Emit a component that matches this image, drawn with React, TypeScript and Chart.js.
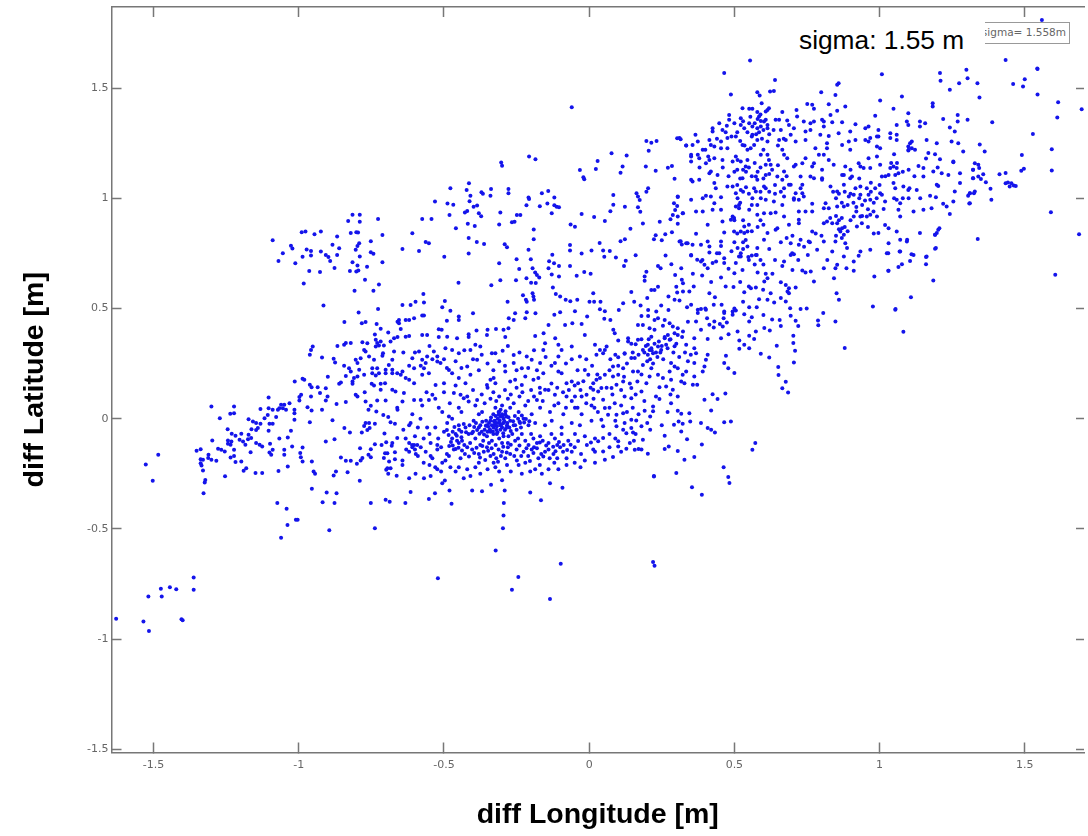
import React, { useEffect, useRef } from "react";
import { Chart, registerables } from "chart.js";

Chart.register(...registerables);

const xTickValues = [-1.5, -1, -0.5, 0, 0.5, 1, 1.5];
const yTickValues = [-1.5, -1, -0.5, 0, 0.5, 1, 1.5];
const xTitle = "diff Longitude [m]";
const yTitle = "diff Latitude [m]";
const sigmaNote = "sigma: 1.55 m";
const sigmaLegend = "sigma= 1.558m";

const southWest = [[-1.629,-0.908],[-1.535,-0.92],[-1.516,-0.964],[-1.518,-0.807],[-1.472,-0.807],[-1.475,-0.772],[-1.444,-0.765],[-1.422,-0.774],[-1.362,-0.721],[-1.362,-0.777],[-1.404,-0.91],[-1.40,-0.915],[-1.484,-0.164],[-1.527,-0.208],[-1.503,-0.282]];

const northWest = [[-1.09,0.81],[-1.055,0.75],[-1.07,0.715],[-1.027,0.785],[-1.022,0.772],[-1.012,0.705],[-0.987,0.735],[-0.99,0.846],[-0.977,0.849],[-0.973,0.767],[-0.958,0.761],[-0.958,0.74],[-0.946,0.837],[-0.924,0.849],[-0.924,0.758],[-0.907,0.743],[-0.898,0.733],[-0.892,0.715],[-0.964,0.67],[-0.927,0.666],[-0.877,0.684],[-0.868,0.826],[-0.884,0.789],[-0.861,0.773],[-0.868,0.743],[-0.983,0.613],[-0.915,0.513],[-0.83,0.897],[-0.815,0.925],[-0.79,0.925],[-0.79,0.893],[-0.727,0.906],[-0.821,0.842],[-0.802,0.846],[-0.796,0.845],[-0.712,0.833],[-0.752,0.805],[-0.792,0.796],[-0.798,0.784],[-0.804,0.766],[-0.752,0.755],[-0.743,0.748],[-0.79,0.736],[-0.815,0.71],[-0.798,0.695],[-0.712,0.71],[-0.765,0.689],[-0.824,0.67],[-0.802,0.668],[-0.795,0.672],[-0.772,0.63],[-0.724,0.609],[-0.808,0.58],[-0.743,0.58],[-0.727,0.497],[-0.794,0.482],[-0.843,0.438],[-0.783,0.433],[-0.77,0.438],[-0.732,0.43],[-0.718,0.408],[-0.66,0.44],[-0.692,0.391],[-0.738,0.382],[-0.672,0.365],[-0.66,0.37],[-0.684,0.35],[-0.735,0.358],[-0.718,0.35],[-0.73,0.343],[-0.735,0.327],[-0.724,0.332],[-0.707,0.332],[-0.781,0.347],[-0.764,0.342],[-0.867,0.33],[-0.844,0.335],[-0.838,0.343],[-0.821,0.343],[-0.952,0.327],[-0.958,0.312],[-0.962,0.29],[-0.92,0.278],[-0.88,0.272],[-0.875,0.255],[-0.775,0.312],[-0.77,0.305],[-0.672,0.305],[-0.71,0.297],[-0.712,0.285],[-0.804,0.267],[-0.787,0.274],[-0.798,0.252],[-0.758,0.282],[-0.741,0.267],[-0.844,0.24],[-0.827,0.229],[-0.821,0.214],[-0.792,0.222],[-0.747,0.229],[-0.73,0.229],[-0.69,0.244],[-0.678,0.267],[-0.747,0.206],[-0.724,0.206],[-0.701,0.222],[-0.701,0.206],[-0.678,0.222],[-0.678,0.206],[-0.661,0.206],[-0.838,0.194],[-0.81,0.184],[-0.798,0.191],[-0.775,0.199],[-0.815,0.169],[-0.815,0.158],[-0.735,0.196],[-0.9,0.19],[-1.014,0.169],[-0.987,0.181],[-0.981,0.176],[-0.962,0.154],[-0.956,0.142],[-0.935,0.142],[-0.907,0.138],[-0.861,0.158],[-0.855,0.164],[-0.749,0.158],[-0.741,0.15],[-0.718,0.158],[-0.703,0.161],[-0.718,0.131],[-0.678,0.131],[-0.667,0.123],[-0.804,0.108],[-0.798,0.1],[-0.773,0.12],[-0.927,0.116],[-0.958,0.101],[-0.992,0.108],[-0.998,0.098],[-0.901,0.101],[-1.104,0.096]];

const westBand = [[-1.301,0.055],[-1.223,0.055],[-1.223,0.025],[-1.236,0.022],[-1.272,0.002],[-1.132,0.044],[-1.104,0.047],[-1.09,0.04],[-1.072,0.04],[-1.061,0.063],[-1.05,0.063],[-1.067,0.047],[-1.055,0.047],[-1.044,0.04],[-1.032,0.07],[-1.015,0.04],[-1.015,0.025],[-1.107,0.017],[-1.118,0.002],[-1.078,0.007],[-1.015,-0.005],[-1.173,-0.003],[-1.158,-0.013],[-1.147,-0.02],[-1.132,-0.023],[-1.101,-0.023],[-1.09,-0.023],[-1.163,-0.048],[-1.147,-0.051],[-1.141,-0.043],[-1.104,-0.055],[-1.027,-0.055],[-1.245,-0.048],[-1.231,-0.069],[-1.218,-0.078],[-1.198,-0.069],[-1.173,-0.073],[-1.164,-0.088],[-1.175,-0.093],[-1.298,-0.099],[-1.244,-0.099],[-1.232,-0.104],[-1.244,-0.114],[-1.235,-0.119],[-1.204,-0.096],[-1.192,-0.104],[-1.184,-0.119],[-1.147,-0.11],[-1.135,-0.119],[-1.126,-0.126],[-1.099,-0.114],[-1.067,-0.09],[-1.038,-0.085],[-1.023,-0.126],[-1.352,-0.146],[-1.338,-0.139],[-1.278,-0.137],[-1.267,-0.141],[-1.255,-0.149],[-1.223,-0.141],[-1.166,-0.152],[-1.223,-0.169],[-1.09,-0.141],[-1.101,-0.154],[-1.095,-0.164],[-1.05,-0.141],[-1.05,-0.164],[-0.987,-0.131],[-0.995,-0.156],[-0.993,-0.175],[-0.987,-0.194],[-0.955,-0.194],[-1.311,-0.164],[-1.312,-0.179],[-1.301,-0.187],[-1.284,-0.191],[-1.338,-0.184],[-1.33,-0.187],[-1.338,-0.202],[-1.335,-0.213],[-1.235,-0.176],[-1.218,-0.197],[-1.198,-0.194],[-1.33,-0.235],[-1.181,-0.225],[-1.19,-0.237],[-1.149,-0.247],[-1.126,-0.247],[-1.07,-0.238],[-1.038,-0.217],[-1.254,-0.261],[-1.322,-0.278],[-1.324,-0.29],[-1.328,-0.339],[-0.949,-0.24],[-0.944,-0.25],[-0.955,-0.318],[-1.074,-0.383],[-1.042,-0.409],[-1.039,-0.483],[-1.01,-0.459],[-1.004,-0.459],[-1.061,-0.54],[-0.904,-0.335],[-0.87,-0.339],[-0.918,-0.379],[-0.877,-0.383],[-0.895,-0.506],[-0.738,-0.497],[-0.752,-0.383],[-0.701,-0.368],[-0.687,-0.377],[-0.79,-0.282],[-0.88,-0.258],[-0.872,-0.24],[-0.832,-0.243],[-0.8,-0.205],[-0.855,-0.176],[-0.838,-0.191],[-0.821,-0.191],[-0.781,-0.179],[-0.787,-0.19],[-0.76,-0.164],[-0.752,-0.175],[-0.789,-0.134],[-0.752,-0.139],[-0.738,-0.116],[-0.715,-0.12],[-0.699,-0.107],[-0.678,-0.111],[-0.68,-0.123],[-0.907,-0.104],[-0.877,-0.093],[-0.661,-0.088],[-0.703,-0.157],[-0.695,-0.157],[-0.707,-0.179],[-0.689,-0.195],[-0.669,-0.184],[-0.669,-0.152],[-0.695,-0.225],[-0.684,-0.225],[-0.699,-0.232],[-0.692,-0.25],[-0.663,-0.259],[-0.843,-0.043],[-0.824,-0.063],[-0.783,-0.063],[-0.705,-0.067],[-0.962,-0.016],[-0.884,-0.007],[-0.77,-0.02],[-0.775,-0.033],[-0.758,-0.02],[-0.764,-0.051],[-0.738,-0.023],[-0.756,-0.043],[-0.684,-0.016],[-0.669,-0.023],[-0.97,0.052],[-0.956,0.037],[-0.92,0.04],[-0.87,0.067],[-0.838,0.075],[-0.77,0.078],[-0.752,0.058],[-0.76,0.04],[-0.733,0.032],[-0.709,0.017],[-0.692,0.007],[-0.661,0.049],[-0.998,0.082],[-0.907,0.082],[-0.73,0.082],[-0.701,0.082]];

const centreUpper = [[-0.643,0.214],[-0.649,0.199],[-0.632,0.184],[-0.62,0.176],[-0.603,0.161],[-0.569,0.229],[-0.563,0.252],[-0.575,0.267],[-0.558,0.282],[-0.535,0.305],[-0.523,0.282],[-0.523,0.259],[-0.512,0.252],[-0.483,0.221],[-0.472,0.206],[-0.449,0.184],[-0.426,0.161],[-0.409,0.199],[-0.42,0.237],[-0.386,0.267],[-0.409,0.312],[-0.472,0.312],[-0.449,0.297],[-0.495,0.32],[-0.552,0.206],[-0.575,0.199],[-0.609,0.274],[-0.603,0.229],[-0.586,0.305],[-0.392,0.335],[-0.375,0.327],[-0.335,0.297],[-0.323,0.297],[-0.298,0.308],[-0.289,0.214],[-0.26,0.289],[-0.26,0.252],[-0.232,0.229],[-0.215,0.282],[-0.198,0.267],[-0.169,0.252],[-0.255,0.176],[-0.232,0.153],[-0.272,0.168],[-0.34,0.176],[-0.329,0.184],[-0.352,0.153],[-0.323,0.161],[-0.5,0.161],[-0.529,0.153],[-0.638,0.116],[-0.643,0.078],[-0.603,0.085],[-0.58,0.085],[-0.552,0.085],[-0.54,0.108],[-0.466,0.116],[-0.443,0.108],[-0.432,0.093],[-0.415,0.078],[-0.386,0.085],[-0.158,0.312],[-0.152,0.342],[-0.106,0.335],[-0.095,0.312],[-0.06,0.327],[-0.032,0.282],[0.02,0.335],[-0.015,0.221],[-0.003,0.199],[0.025,0.176],[0.014,0.161],[0.014,0.131],[0.031,0.123],[-0.009,0.108],[-0.038,0.161],[-0.06,0.168],[-0.078,0.161],[-0.095,0.206],[-0.106,0.214],[-0.118,0.252],[-0.106,0.282],[-0.158,0.206],[-0.175,0.184],[-0.192,0.176],[-0.22,0.191],[-0.152,0.131],[-0.169,0.116],[-0.18,0.085],[-0.118,0.108],[-0.078,0.1],[-0.049,0.1],[-0.026,0.1]];

const centreCore = [[-0.66,0.04],[-0.609,0.02],[-0.575,0.06],[-0.518,0.05],[-0.506,0.03],[-0.483,0.01],[-0.449,0.05],[-0.392,0.06],[-0.369,0.03],[-0.323,0.05],[-0.312,0.03],[-0.3,0.06],[-0.289,0.02],[-0.272,0.05],[-0.243,0.03],[-0.22,0.06],[-0.198,0.02],[-0.169,0.05],[-0.135,0.03],[-0.106,0.07],[-0.089,0.02],[-0.049,0.05],[-0.026,0.02],[0.008,0.06],[-0.615,-0.02],[-0.581,-0.0],[-0.558,-0.04],[-0.489,-0.02],[-0.472,-0.0],[-0.449,-0.03],[-0.426,-0.04],[-0.398,-0.01],[-0.375,-0.03],[-0.352,-0.03],[-0.34,-0.01],[-0.329,-0.04],[-0.318,-0.02],[-0.306,-0.03],[-0.295,-0.0],[-0.283,-0.03],[-0.272,-0.01],[-0.255,-0.03],[-0.238,-0.02],[-0.226,0.0],[-0.209,-0.03],[-0.186,-0.02],[-0.152,-0.03],[-0.129,-0.01],[-0.095,-0.04],[-0.06,-0.02],[-0.032,-0.03],[0.008,-0.01],[-0.345,-0.02],[-0.335,-0.03],[-0.325,-0.01],[-0.315,0.0],[-0.31,-0.02],[-0.3,-0.04],[-0.305,0.01],[-0.295,-0.02],[-0.29,-0.05],[-0.32,-0.05],[-0.33,0.02],[-0.31,0.03],[-0.305,0.04],[-0.3,0.02],[-0.285,0.01],[-0.275,-0.04],[-0.26,-0.03],[-0.25,-0.05],[-0.245,0.0],[-0.235,-0.04],[-0.36,-0.05],[-0.355,-0.01],[-0.35,-0.06],[-0.34,-0.06],[-0.37,-0.06],[-0.38,-0.04],[-0.39,-0.02]];

const centreLower = [[-0.632,-0.09],[-0.62,-0.11],[-0.603,-0.12],[-0.592,-0.12],[-0.546,-0.11],[-0.523,-0.12],[-0.472,-0.09],[-0.46,-0.07],[-0.449,-0.11],[-0.438,-0.1],[-0.415,-0.07],[-0.392,-0.09],[-0.375,-0.12],[-0.352,-0.08],[-0.335,-0.1],[-0.318,-0.07],[-0.3,-0.11],[-0.278,-0.08],[-0.255,-0.1],[-0.232,-0.07],[-0.209,-0.12],[-0.192,-0.09],[-0.169,-0.08],[-0.14,-0.11],[-0.118,-0.09],[-0.095,-0.07],[-0.072,-0.1],[-0.049,-0.07],[-0.015,-0.08],[0.02,-0.09],[-0.47,-0.06],[-0.455,-0.1],[-0.44,-0.06],[-0.43,-0.12],[-0.41,-0.11],[-0.4,-0.06],[-0.365,-0.1],[-0.345,-0.11],[-0.33,-0.07],[-0.31,-0.09],[-0.295,-0.08],[-0.28,-0.11],[-0.265,-0.07],[-0.245,-0.09],[-0.22,-0.1],[-0.2,-0.07],[-0.18,-0.11],[-0.16,-0.1],[-0.13,-0.07],[-0.11,-0.12],[-0.643,-0.19],[-0.609,-0.13],[-0.597,-0.16],[-0.563,-0.15],[-0.546,-0.17],[-0.523,-0.14],[-0.495,-0.19],[-0.483,-0.17],[-0.466,-0.14],[-0.443,-0.18],[-0.403,-0.14],[-0.363,-0.15],[-0.352,-0.13],[-0.329,-0.16],[-0.312,-0.14],[-0.289,-0.18],[-0.272,-0.16],[-0.249,-0.19],[-0.226,-0.15],[-0.198,-0.14],[-0.175,-0.18],[-0.152,-0.15],[-0.123,-0.16],[-0.1,-0.13],[-0.078,-0.18],[-0.015,-0.19],[0.014,-0.14],[-0.42,-0.13],[-0.38,-0.16],[-0.34,-0.17],[-0.32,-0.18],[-0.3,-0.15],[-0.28,-0.13],[-0.25,-0.14],[-0.21,-0.17],[-0.19,-0.13],[-0.165,-0.16],[-0.14,-0.14],[-0.11,-0.18],[-0.09,-0.15],[-0.06,-0.15],[-0.643,-0.21],[-0.62,-0.27],[-0.598,-0.25],[-0.569,-0.27],[-0.546,-0.26],[-0.523,-0.23],[-0.506,-0.2],[-0.478,-0.22],[-0.449,-0.22],[-0.432,-0.27],[-0.409,-0.26],[-0.392,-0.22],[-0.375,-0.25],[-0.329,-0.2],[-0.323,-0.22],[-0.283,-0.21],[-0.243,-0.21],[-0.232,-0.25],[-0.203,-0.24],[-0.186,-0.23],[-0.163,-0.25],[-0.106,-0.23],[-0.078,-0.21],[0.02,-0.2],[-0.506,-0.293],[-0.497,-0.281],[-0.615,-0.333],[-0.481,-0.326],[-0.531,-0.338],[-0.403,-0.326],[-0.369,-0.33],[-0.338,-0.3],[-0.3,-0.279],[-0.291,-0.326],[-0.203,-0.335],[-0.135,-0.293],[-0.092,-0.314],[-0.166,-0.37],[-0.633,-0.383],[-0.552,-0.365],[-0.474,-0.386],[-0.294,-0.383],[-0.295,-0.439],[-0.297,-0.497]];

const denseCoreBlob = [[-0.338,0.005],[-0.328,-0.012],[-0.322,0.012],[-0.318,-0.034],[-0.312,0.018],[-0.308,-0.008],[-0.302,-0.026],[-0.298,0.012],[-0.292,-0.012],[-0.288,0.034],[-0.282,-0.02],[-0.278,0.006],[-0.348,-0.036],[-0.342,-0.048],[-0.332,-0.058],[-0.326,-0.028],[-0.316,-0.062],[-0.306,-0.05],[-0.296,-0.066],[-0.286,-0.042],[-0.27,-0.056],[-0.262,-0.012],[-0.256,0.012],[-0.24,-0.014],[-0.232,0.014],[-0.224,-0.018],[-0.218,-0.002],[-0.206,-0.012],[-0.368,-0.014],[-0.362,-0.072],[-0.356,-0.032],[-0.378,-0.068],[-0.386,-0.052],[-0.396,-0.038],[-0.404,-0.066],[-0.412,-0.03],[-0.424,-0.062],[-0.432,-0.024],[-0.44,-0.084],[-0.448,-0.05],[-0.456,-0.078],[-0.464,-0.038],[-0.476,-0.106],[-0.484,-0.074],[-0.49,-0.052],[-0.482,-0.124],[-0.47,-0.122],[-0.46,-0.138],[-0.45,-0.132],[-0.438,-0.144],[-0.428,-0.16],[-0.414,-0.172],[-0.396,-0.156],[-0.388,-0.132],[-0.376,-0.176],[-0.368,-0.124],[-0.358,-0.188],[-0.348,-0.146],[-0.336,-0.134],[-0.322,-0.12],[-0.314,-0.196],[-0.304,-0.17],[-0.296,-0.128],[-0.284,-0.154],[-0.27,-0.118],[-0.258,-0.17],[-0.24,-0.122],[-0.234,-0.17],[-0.216,-0.134],[-0.204,-0.192],[-0.192,-0.156],[-0.18,-0.134],[-0.17,-0.108],[-0.158,-0.172],[-0.148,-0.122],[-0.136,-0.18],[-0.124,-0.128],[-0.116,-0.148],[-0.104,-0.106],[-0.088,-0.12],[-0.076,-0.142],[-0.064,-0.118],[-0.05,-0.13],[-0.038,-0.102],[-0.028,-0.16],[-0.008,-0.12],[0.006,-0.108],[0.02,-0.15]];

const coreUpperBand = [[-0.56,0.12],[-0.53,0.09],[-0.5,0.12],[-0.48,0.07],[-0.46,0.15],[-0.44,0.03],[-0.42,0.1],[-0.4,0.13],[-0.38,0.02],[-0.37,0.11],[-0.36,0.07],[-0.35,0.14],[-0.34,0.09],[-0.33,0.12],[-0.32,0.08],[-0.31,0.1],[-0.29,0.13],[-0.28,0.09],[-0.27,0.11],[-0.26,0.07],[-0.25,0.14],[-0.24,0.1],[-0.23,0.12],[-0.21,0.08],[-0.2,0.13],[-0.19,0.1],[-0.17,0.14],[-0.16,0.08],[-0.14,0.13],[-0.13,0.16],[-0.12,0.06],[-0.11,0.14],[-0.09,0.12],[-0.08,0.05],[-0.07,0.13],[-0.06,0.08],[-0.05,0.15],[-0.04,0.05],[-0.03,0.13],[-0.02,0.17],[-0.01,0.07],[0.005,0.14],[0.015,0.09],[0.028,0.2],[0.018,0.05],[0.03,0.03],[-0.64,-0.05],[-0.62,-0.03],[-0.6,-0.08],[-0.59,-0.04],[-0.57,-0.09],[-0.55,-0.07],[-0.53,-0.04],[-0.52,-0.09],[-0.51,-0.13],[-0.5,-0.06],[-0.49,-0.16],[-0.63,-0.14],[-0.62,-0.15],[-0.61,-0.12],[-0.6,-0.14],[-0.59,-0.17],[-0.58,-0.13],[-0.57,-0.2],[-0.55,-0.21],[-0.54,-0.18],[-0.53,-0.22],[-0.51,-0.24],[-0.46,-0.24],[-0.42,-0.23],[-0.38,-0.2],[-0.35,-0.23],[-0.31,-0.24],[-0.27,-0.24],[-0.22,-0.2],[-0.17,-0.21],[-0.14,-0.23],[-0.12,-0.2],[-0.05,-0.2],[-0.03,-0.22],[-0.64,0.3],[-0.62,0.24],[-0.6,0.3],[-0.58,0.24],[-0.55,0.33],[-0.54,0.27],[-0.5,0.27],[-0.49,0.23],[-0.46,0.26],[-0.44,0.23],[-0.43,0.31],[-0.4,0.27],[-0.38,0.22],[-0.37,0.29],[-0.35,0.25],[-0.33,0.22],[-0.31,0.26],[-0.29,0.24],[-0.28,0.33],[-0.25,0.22],[-0.24,0.3],[-0.21,0.23],[-0.19,0.31],[-0.18,0.22],[-0.15,0.28],[-0.13,0.24],[-0.08,0.25],[-0.06,0.27],[-0.04,0.22],[-0.01,0.27],[0.01,0.24],[0.025,0.29]];

const southOutliers = [[-0.322,-0.598],[-0.521,-0.724],[-0.244,-0.719],[-0.266,-0.777],[-0.135,-0.818],[-0.098,-0.659],[0.22,-0.651],[0.225,-0.668],[0.223,-0.26]];

const northMiddle = [[-0.06,1.413],[0.197,1.26],[0.214,1.252],[0.232,1.26],[0.303,1.272],[0.315,1.268],[0.334,1.239],[0.205,1.216],[0.077,1.204],[0.129,1.194],[-0.207,1.19],[-0.185,1.177],[-0.303,1.162],[-0.3,1.148],[0.029,1.169],[-0.032,1.128],[0.023,1.133],[-0.02,1.095],[-0.017,1.086],[0.115,1.144],[0.108,1.116],[0.195,1.144],[0.229,1.125],[0.271,1.138],[0.285,1.147],[0.294,1.089],[-0.414,1.068],[-0.478,1.045],[-0.422,1.038],[-0.409,1.012],[-0.412,0.986],[-0.371,1.027],[-0.366,1.02],[-0.338,1.042],[-0.34,1.012],[-0.278,1.042],[-0.278,1.023],[-0.163,1.023],[-0.141,1.033],[-0.209,1.004],[-0.207,0.997],[-0.12,1.003],[0.083,1.015],[0.203,1.045],[0.197,1.03],[0.163,1.023],[0.168,1.008],[0.174,0.992],[0.305,1.006],[-0.531,0.985],[-0.488,0.976],[-0.468,0.971],[-0.398,0.962],[-0.386,0.967],[-0.42,0.942],[-0.428,0.936],[-0.216,0.968],[-0.17,0.964],[-0.144,0.976],[-0.12,0.968],[-0.112,0.962],[-0.104,0.959],[0.083,0.971],[0.123,0.962],[0.292,0.977],[0.303,0.965],[0.296,0.947],[0.168,0.959],[0.176,0.939],[0.073,0.941],[-0.306,0.935],[-0.38,0.932],[-0.372,0.918],[-0.481,0.924],[-0.129,0.932],[-0.026,0.929],[0.017,0.915],[-0.249,0.924],[-0.237,0.924],[-0.575,0.906],[-0.543,0.906],[0.054,0.897],[0.288,0.924],[0.28,0.905],[0.305,0.917],[0.323,0.932],[0.305,0.884],[0.243,0.894],[0.185,0.885],[-0.418,0.884],[-0.394,0.874],[-0.266,0.891],[-0.257,0.893],[-0.31,0.881],[-0.064,0.881],[-0.049,0.871],[0.142,0.862],[-0.459,0.864],[-0.191,0.858],[-0.609,0.841],[0.285,0.846],[0.262,0.837],[0.229,0.832],[0.223,0.814],[0.25,0.81],[-0.415,0.82],[-0.387,0.802],[-0.362,0.793],[-0.191,0.814],[-0.563,0.802],[-0.552,0.796],[0.123,0.814],[0.108,0.805],[0.036,0.797],[0.315,0.805],[0.319,0.79],[0.334,0.796],[-0.643,0.77],[-0.586,0.761],[-0.291,0.791],[-0.283,0.778],[-0.066,0.788],[-0.066,0.763],[-0.209,0.766],[0.008,0.763],[0.048,0.763],[0.071,0.761],[-0.415,0.749],[-0.499,0.735],[-0.127,0.744],[-0.026,0.749],[0.052,0.735],[0.16,0.741],[0.263,0.74],[0.092,0.731],[-0.25,0.723],[-0.201,0.723],[-0.138,0.714],[-0.121,0.705],[-0.14,0.682],[-0.104,0.693],[0.126,0.717],[0.12,0.693],[-0.31,0.705],[-0.066,0.693],[0.283,0.701],[0.237,0.693],[0.246,0.682],[-0.241,0.679],[-0.195,0.682],[-0.186,0.663],[-0.18,0.652],[-0.172,0.64],[0.317,0.682],[0.296,0.652],[-0.129,0.654],[-0.104,0.645],[-0.043,0.649],[-0.017,0.666],[0.005,0.657],[0.197,0.667],[0.191,0.645],[0.191,0.626],[-0.306,0.628],[-0.252,0.628],[-0.216,0.637],[-0.2,0.617],[-0.184,0.616],[0.319,0.63],[0.323,0.614],[-0.45,0.617],[-0.337,0.605],[-0.125,0.595],[-0.115,0.566],[-0.1,0.554],[-0.081,0.539],[-0.065,0.533],[0.237,0.599],[0.225,0.584],[0.214,0.584],[0.3,0.599],[0.303,0.572],[0.323,0.577],[0.294,0.539],[0.311,0.536],[0.273,0.554],[0.145,0.575],[0.2,0.548],[0.014,0.569],[-0.228,0.56],[-0.195,0.569],[-0.192,0.554],[-0.19,0.539],[-0.218,0.539],[-0.215,0.531],[-0.041,0.539],[0.001,0.53],[0.017,0.53],[0.039,0.53],[-0.571,0.566],[-0.569,0.527],[-0.497,0.534],[-0.598,0.53],[-0.615,0.516],[-0.643,0.516],[-0.281,0.53],[0.117,0.524],[0.155,0.531],[0.177,0.513],[0.203,0.493],[0.231,0.486],[0.248,0.513],[0.273,0.493],[0.102,0.493],[0.037,0.496],[0.054,0.487],[-0.506,0.506],[-0.478,0.49],[-0.4,0.478],[-0.255,0.478],[-0.215,0.483],[-0.185,0.478],[-0.12,0.471],[-0.1,0.483],[-0.049,0.487],[-0.575,0.468],[-0.569,0.468],[-0.655,0.448],[-0.632,0.448],[-0.62,0.448],[-0.603,0.456],[-0.449,0.463],[-0.449,0.448],[-0.277,0.456],[-0.26,0.448],[-0.22,0.456],[-0.007,0.463],[0.18,0.466],[0.203,0.466],[0.225,0.448],[0.237,0.456],[0.26,0.448],[0.277,0.433],[0.288,0.418],[0.052,0.453],[0.073,0.448],[-0.49,0.444],[-0.14,0.425],[-0.083,0.425],[-0.058,0.433],[-0.026,0.43],[-0.655,0.433],[-0.649,0.407],[-0.518,0.406],[-0.508,0.403],[-0.415,0.383],[-0.388,0.4],[-0.35,0.403],[-0.321,0.407],[-0.295,0.403],[-0.278,0.41],[0.168,0.425],[0.185,0.425],[0.208,0.41],[0.225,0.403],[0.254,0.421],[0.305,0.41],[0.323,0.395],[0.294,0.388],[0.271,0.38],[0.083,0.403],[0.088,0.388],[-0.015,0.38],[-0.157,0.388],[-0.186,0.375],[-0.632,0.372],[-0.62,0.375],[-0.575,0.38],[-0.558,0.38],[-0.518,0.37],[-0.489,0.372],[-0.455,0.365],[-0.415,0.37],[-0.352,0.38],[-0.289,0.37],[-0.117,0.365],[0.134,0.365],[0.214,0.372],[0.26,0.365],[0.305,0.38]];

const eastBandUpper = [[0.351,0.74],[0.372,0.721],[0.385,0.713],[0.397,0.698],[0.408,0.683],[0.425,0.706],[0.437,0.713],[0.465,0.728],[0.465,0.706],[0.505,0.706],[0.522,0.736],[0.528,0.675],[0.548,0.733],[0.577,0.743],[0.58,0.663],[0.671,0.713],[0.665,0.693],[0.694,0.743],[0.705,0.746],[0.753,0.743],[0.854,0.698],[0.848,0.683],[0.886,0.683],[0.911,0.713],[0.911,0.671],[0.928,0.739],[1.031,0.671],[0.982,0.645],[0.843,0.637],[0.808,0.683],[0.774,0.622],[0.745,0.663],[0.763,0.668],[0.734,0.672],[0.7,0.675],[0.357,0.657],[0.389,0.65],[0.454,0.64],[0.497,0.597],[0.534,0.574],[0.557,0.592],[0.574,0.595],[0.603,0.622],[0.614,0.637],[0.631,0.657],[0.608,0.657],[0.66,0.619],[0.677,0.607],[0.688,0.592],[0.711,0.595],[0.683,0.577],[0.688,0.569],[0.66,0.547],[0.677,0.532],[0.625,0.569],[0.599,0.585],[0.585,0.542],[0.614,0.539],[0.637,0.527],[0.345,0.577],[0.414,0.569],[0.433,0.551],[0.429,0.517],[0.456,0.517],[0.351,0.517],[0.337,0.506],[0.852,0.569],[0.86,0.539],[0.977,0.509],[1.054,0.494],[0.728,0.497],[0.749,0.5],[0.692,0.501],[0.806,0.479],[0.551,0.506],[0.577,0.506],[0.534,0.474],[0.494,0.486],[0.505,0.491],[0.465,0.486],[0.374,0.494],[0.385,0.497],[0.402,0.494],[0.362,0.365],[0.368,0.441],[0.374,0.479],[0.406,0.456],[0.414,0.426],[0.431,0.441],[0.429,0.414],[0.46,0.418],[0.474,0.436],[0.463,0.456],[0.465,0.479],[0.494,0.471],[0.385,0.403],[0.408,0.361],[0.454,0.365],[0.48,0.383],[0.511,0.396],[0.517,0.355],[0.534,0.335],[0.517,0.317],[0.551,0.32],[0.551,0.376],[0.568,0.361],[0.574,0.396],[0.603,0.411],[0.622,0.4],[0.551,0.441],[0.656,0.448],[0.694,0.467],[0.711,0.444],[0.788,0.445],[0.789,0.424],[0.848,0.441],[0.703,0.376],[0.703,0.343],[0.709,0.308],[0.646,0.331],[0.88,0.321],[0.362,0.32],[0.36,0.6],[0.39,0.72],[0.42,0.62],[0.44,0.75],[0.47,0.6],[0.48,0.68],[0.5,0.66],[0.52,0.62],[0.55,0.6],[0.57,0.7],[0.6,0.7],[0.62,0.77],[0.64,0.72],[0.66,0.8],[0.68,0.82],[0.7,0.83],[0.72,0.72],[0.74,0.78],[0.76,0.8],[0.78,0.84],[0.8,0.83],[0.82,0.72],[0.34,0.44],[0.4,0.5],[0.45,0.43],[0.5,0.5],[0.53,0.53],[0.56,0.46],[0.6,0.47],[0.63,0.45],[0.66,0.42],[0.72,0.42]];

const eastBandLower = [[0.054,0.312],[0.037,0.312],[0.06,0.327],[0.048,0.297],[0.1,0.355],[0.134,0.35],[0.145,0.34],[0.168,0.358],[0.202,0.335],[0.185,0.312],[0.208,0.312],[0.214,0.32],[0.22,0.297],[0.202,0.29],[0.237,0.327],[0.265,0.335],[0.277,0.358],[0.334,0.335],[0.294,0.328],[0.248,0.312],[0.122,0.297],[0.16,0.338],[0.18,0.36],[0.471,0.285],[0.465,0.252],[0.479,0.229],[0.5,0.207],[0.402,0.267],[0.408,0.29],[0.397,0.237],[0.391,0.214],[0.362,0.252],[0.368,0.297],[0.362,0.191],[0.328,0.161],[0.317,0.169],[0.357,0.154],[0.372,0.154],[0.334,0.214],[0.305,0.229],[0.282,0.252],[0.277,0.214],[0.282,0.176],[0.265,0.146],[0.242,0.143],[0.237,0.199],[0.254,0.184],[0.208,0.191],[0.197,0.161],[0.166,0.169],[0.151,0.214],[0.168,0.214],[0.145,0.275],[0.157,0.275],[0.122,0.294],[0.1,0.279],[0.073,0.27],[0.082,0.237],[0.117,0.229],[0.1,0.199],[0.082,0.191],[0.054,0.199],[0.037,0.184],[0.042,0.139],[0.077,0.139],[0.094,0.154],[0.117,0.169],[0.145,0.139],[0.18,0.123],[0.288,0.131],[0.305,0.101],[0.242,0.089],[0.397,0.086],[0.425,0.111],[0.442,0.089],[0.469,0.114],[0.591,0.294],[0.62,0.278],[0.651,0.234],[0.705,0.255],[0.652,0.198],[0.677,0.167],[0.665,0.138],[0.685,0.119],[0.214,0.229],[0.185,0.244],[0.294,0.237],[0.322,0.199],[0.048,0.086],[0.088,0.07],[0.122,0.101],[0.145,0.093],[0.22,0.055],[0.282,0.07],[0.305,0.036],[0.317,0.022],[0.345,0.025],[0.42,0.037],[0.054,0.048],[0.094,0.018],[0.117,0.025],[0.065,0.018],[0.042,-0.005],[0.048,-0.035],[0.094,-0.035],[0.122,-0.02],[0.145,-0.005],[0.162,-0.008],[0.18,-0.035],[0.145,-0.043],[0.128,-0.066],[0.151,-0.063],[0.117,-0.05],[0.21,-0.05],[0.292,-0.028],[0.308,-0.013],[0.322,-0.023],[0.348,-0.013],[0.385,-0.02],[0.408,-0.043],[0.42,-0.05],[0.433,-0.063],[0.465,-0.016],[0.488,-0.013],[0.317,-0.058],[0.26,-0.078],[0.337,-0.093],[0.185,-0.096],[0.154,-0.1],[0.1,-0.103],[0.048,-0.088],[0.031,-0.103],[0.1,-0.126],[0.128,-0.137],[0.157,-0.141],[0.17,-0.138],[0.048,-0.149],[0.054,-0.187],[0.082,-0.174],[0.202,-0.159],[0.26,-0.138],[0.274,-0.126],[0.305,-0.147],[0.388,-0.117],[0.572,-0.111],[0.562,-0.141],[0.328,-0.187],[0.362,-0.174],[0.463,-0.221],[0.479,-0.265],[0.483,-0.292],[0.3,-0.247],[0.223,-0.262],[0.354,-0.311],[0.388,-0.345],[0.191,0.036],[0.22,0.033],[0.06,0.14],[0.07,0.22],[0.08,0.11],[0.09,0.29],[0.1,0.24],[0.11,0.13],[0.12,0.19],[0.13,0.25],[0.14,0.16],[0.15,0.3],[0.16,0.11],[0.17,0.29],[0.18,0.2],[0.19,0.3],[0.195,0.33],[0.2,0.26],[0.205,0.36],[0.21,0.27],[0.215,0.31],[0.22,0.25],[0.225,0.34],[0.23,0.3],[0.235,0.28],[0.24,0.35],[0.245,0.3],[0.25,0.33],[0.255,0.27],[0.26,0.37],[0.27,0.32],[0.28,0.36],[0.29,0.3],[0.3,0.34],[0.31,0.28],[0.32,0.37],[0.33,0.3],[0.34,0.26],[0.35,0.29],[0.07,0.05],[0.09,-0.01],[0.11,0.06],[0.13,0.03],[0.15,0.05],[0.17,0.02],[0.19,0.08],[0.21,0.01],[0.23,0.1],[0.25,-0.03],[0.27,0.03],[0.28,0.11],[0.07,-0.07],[0.09,-0.09],[0.11,-0.15],[0.14,-0.11],[0.16,-0.07],[0.18,-0.14],[0.07,-0.13],[0.2,-0.02]];

const northEastTop = [[0.465,1.568],[0.554,1.625],[0.64,1.537],[0.488,1.471],[0.579,1.481],[0.587,1.466],[0.623,1.484],[0.636,1.487],[0.594,1.431],[0.528,1.409],[0.551,1.406],[0.562,1.406],[0.579,1.391],[0.585,1.371],[0.591,1.351],[0.608,1.356],[0.614,1.401],[0.608,1.394],[0.619,1.409],[0.482,1.378],[0.482,1.356],[0.448,1.341],[0.425,1.318],[0.425,1.303],[0.459,1.31],[0.474,1.329],[0.522,1.363],[0.522,1.333],[0.534,1.318],[0.551,1.341],[0.562,1.326],[0.579,1.318],[0.591,1.326],[0.602,1.348],[0.614,1.333],[0.614,1.318],[0.665,1.391],[0.654,1.356],[0.642,1.356],[0.682,1.353],[0.688,1.333],[0.705,1.318],[0.714,1.401],[0.716,1.371],[0.739,1.348],[0.762,1.341],[0.774,1.348],[0.802,1.356],[0.808,1.348],[0.799,1.481],[0.848,1.469],[0.859,1.522],[0.854,1.515],[0.751,1.428],[0.768,1.424],[0.774,1.406],[0.825,1.427],[0.854,1.397],[0.882,1.416],[0.831,1.378],[0.871,1.345],[0.837,1.345],[0.917,1.336],[0.899,1.303],[0.951,1.318],[0.962,1.326],[0.996,1.31],[0.808,1.326],[1.008,1.563],[1.002,1.444],[1.077,1.462],[1.048,1.406],[1.099,1.386],[0.985,1.374],[1.208,1.568],[1.21,1.533],[1.299,1.583],[1.303,1.545],[1.274,1.522],[1.242,1.492],[1.183,1.431],[1.183,1.416],[1.219,1.36],[1.269,1.378],[1.269,1.348],[1.303,1.356],[1.094,1.348],[1.099,1.333],[1.139,1.348],[1.139,1.326],[1.157,1.341],[1.059,1.333],[1.242,1.321],[1.259,1.303],[1.037,1.295],[1.037,1.273],[1.059,1.288],[1.059,1.265],[0.996,1.28],[1.162,1.265],[1.197,1.25],[1.248,1.258],[1.271,1.25],[1.288,1.212],[1.105,1.25],[1.111,1.258],[1.099,1.235],[1.111,1.227],[1.122,1.22],[1.099,1.217],[1.168,1.205],[1.191,1.2],[1.208,1.177],[1.254,1.164],[1.002,1.227],[0.962,1.258],[0.991,1.235],[0.991,1.19],[0.53,1.35],[0.545,1.3],[0.555,1.37],[0.56,1.28],[0.57,1.34],[0.575,1.29],[0.58,1.36],[0.585,1.3],[0.59,1.38],[0.595,1.27],[0.6,1.31],[0.51,1.3],[0.52,1.26],[0.5,1.34],[0.49,1.28],[0.535,1.24],[0.545,1.22],[0.6,1.22],[0.62,1.29],[0.635,1.31],[0.65,1.24],[0.66,1.31],[0.67,1.27],[0.47,1.3],[0.44,1.27],[0.4,1.22]];

const northEastMiddle = [[0.311,1.273],[0.334,1.239],[0.356,1.242],[0.374,1.258],[0.366,1.288],[0.351,1.197],[0.351,1.167],[0.374,1.197],[0.379,1.182],[0.391,1.22],[0.351,1.19],[0.414,1.265],[0.419,1.242],[0.431,1.235],[0.454,1.227],[0.454,1.258],[0.476,1.273],[0.476,1.227],[0.505,1.28],[0.528,1.242],[0.556,1.227],[0.568,1.242],[0.562,1.288],[0.579,1.265],[0.614,1.258],[0.654,1.265],[0.677,1.265],[0.694,1.288],[0.711,1.258],[0.745,1.265],[0.779,1.227],[0.745,1.303],[0.762,1.31],[0.796,1.288],[0.825,1.283],[0.819,1.25],[0.819,1.227],[0.871,1.242],[0.859,1.295],[0.899,1.22],[0.894,1.258],[0.917,1.265],[0.951,1.265],[0.968,1.273],[0.991,1.28],[0.402,1.159],[0.414,1.174],[0.431,1.182],[0.459,1.174],[0.419,1.121],[0.414,1.114],[0.442,1.106],[0.505,1.19],[0.511,1.174],[0.522,1.167],[0.539,1.144],[0.494,1.167],[0.545,1.174],[0.591,1.197],[0.614,1.197],[0.619,1.174],[0.608,1.152],[0.625,1.152],[0.665,1.22],[0.671,1.197],[0.682,1.182],[0.705,1.144],[0.711,1.152],[0.671,1.121],[0.745,1.182],[0.734,1.159],[0.791,1.197],[0.808,1.197],[0.825,1.174],[0.774,1.159],[0.768,1.144],[0.842,1.152],[0.802,1.129],[0.774,1.091],[0.802,1.084],[0.882,1.144],[0.877,1.106],[0.905,1.099],[0.928,1.159],[0.934,1.144],[0.945,1.137],[0.968,1.137],[0.962,1.182],[1.002,1.152],[1.048,1.144],[1.059,1.137],[1.037,1.137],[1.008,1.099],[1.031,1.106],[1.065,1.114],[1.134,1.147],[1.151,1.137],[1.151,1.099],[1.185,1.121],[1.214,1.114],[1.237,1.106],[1.277,1.114],[1.322,1.129],[1.322,1.091],[1.254,1.167],[0.351,1.084],[0.356,1.076],[0.379,1.084],[0.431,1.069],[0.436,1.046],[0.476,1.053],[0.494,1.053],[0.528,1.091],[0.574,1.099],[0.579,1.084],[0.608,1.106],[0.648,1.099],[0.665,1.084],[0.694,1.061],[0.728,1.099],[0.734,1.061],[0.762,1.099],[0.802,1.091],[0.871,1.106],[0.899,1.091],[0.831,1.053],[0.608,1.046],[0.602,1.053],[0.568,1.046],[0.522,1.038],[0.671,1.046],[0.688,1.061],[0.728,1.046],[0.734,1.023],[0.877,1.061],[0.854,1.031],[0.917,1.046],[0.934,1.053],[0.956,1.046],[0.985,1.046],[1.048,1.069],[1.054,1.046],[1.054,1.106],[1.082,1.053],[1.103,1.046],[1.128,1.038],[1.202,1.056],[1.197,1.061],[1.277,1.069],[1.311,1.023],[1.328,1.031],[1.259,1.031],[0.41,1.19],[0.38,1.14],[0.46,1.14],[0.48,1.1],[0.5,1.12],[0.51,1.13],[0.52,1.09],[0.53,1.13],[0.54,1.12],[0.55,1.14],[0.56,1.1],[0.57,1.16],[0.58,1.12],[0.59,1.14],[0.6,1.09],[0.62,1.11],[0.63,1.13],[0.64,1.06],[0.65,1.15],[0.68,1.1],[0.51,1.06],[0.53,1.03],[0.54,1.05],[0.55,1.02],[0.59,1.03],[0.62,1.03],[0.64,1.02],[0.66,1.03],[0.84,1.03],[0.86,1.02],[0.88,1.03],[0.9,1.02],[0.97,1.03],[0.97,1.07],[0.93,1.09],[0.9,1.13],[1.0,1.06],[1.02,1.1],[1.04,1.16],[1.05,1.2],[1.06,1.16],[1.08,1.12],[1.1,1.22],[1.1,1.13],[1.12,1.1],[1.16,1.18],[1.2,1.14]];

const northEastLower = [[0.391,1.0],[0.402,1.011],[0.419,1.008],[0.454,1.005],[0.505,1.023],[0.511,1.0],[0.574,1.031],[0.562,1.0],[0.591,1.0],[0.608,0.993],[0.636,0.985],[0.671,1.008],[0.711,1.023],[0.705,1.0],[0.722,0.993],[0.739,1.008],[0.351,0.993],[0.431,0.978],[0.505,0.963],[0.516,0.97],[0.579,0.97],[0.665,0.97],[0.705,0.993],[0.768,0.975],[0.814,0.978],[0.808,0.955],[0.825,0.955],[0.854,0.963],[0.877,0.963],[0.894,1.008],[0.911,1.016],[0.934,1.016],[0.962,1.016],[0.968,0.993],[1.002,1.023],[1.008,1.016],[1.019,0.985],[1.059,0.993],[1.071,0.978],[1.099,1.038],[1.174,1.011],[1.194,1.005],[1.219,0.975],[1.231,0.963],[1.254,0.985],[1.311,0.978],[0.305,1.008],[0.322,0.932],[0.368,0.94],[0.391,0.94],[0.425,0.948],[0.454,0.948],[0.494,0.917],[0.499,0.91],[0.488,0.902],[0.516,0.955],[0.551,0.948],[0.579,0.925],[0.602,0.932],[0.625,0.932],[0.642,0.935],[0.671,0.917],[0.722,0.902],[0.722,0.94],[0.745,0.94],[0.768,0.94],[0.819,0.895],[0.837,0.887],[0.854,0.887],[0.871,0.864],[0.877,0.834],[0.865,0.849],[0.808,0.887],[0.911,0.917],[0.934,0.917],[0.956,0.917],[0.979,0.94],[0.968,0.925],[1.014,0.951],[1.065,0.948],[1.117,0.94],[1.071,0.917],[1.151,0.948],[1.179,0.955],[1.242,0.929],[0.408,0.88],[0.459,0.895],[0.368,0.839],[0.465,0.845],[0.499,0.849],[0.522,0.849],[0.534,0.842],[0.545,0.849],[0.534,0.872],[0.539,0.811],[0.545,0.781],[0.511,0.774],[0.522,0.751],[0.516,0.736],[0.454,0.804],[0.454,0.784],[0.408,0.804],[0.414,0.781],[0.385,0.789],[0.356,0.789],[0.311,0.804],[0.339,0.796],[0.351,0.743],[0.414,0.754],[0.448,0.751],[0.579,0.774],[0.574,0.743],[0.614,0.842],[0.648,0.864],[0.642,0.857],[0.602,0.812],[0.688,0.88],[0.722,0.887],[0.694,0.796],[0.699,0.751],[0.728,0.812],[0.722,0.789],[0.768,0.849],[0.756,0.804],[0.785,0.766],[0.808,0.804],[0.848,0.804],[0.882,0.796],[0.888,0.774],[0.922,0.872],[0.939,0.887],[0.991,0.917],[1.019,0.879],[1.031,0.864],[0.996,0.842],[1.059,0.849],[1.031,0.796],[1.071,0.812],[1.094,0.804],[1.139,0.842],[1.191,0.834],[1.202,0.857],[1.194,0.774],[1.071,0.759],[1.025,0.751],[0.968,0.766],[0.934,0.759],[0.837,0.759],[0.877,0.736],[1.162,0.736],[1.117,0.743],[0.56,0.97],[0.52,0.98],[0.5,0.9],[0.53,0.9],[0.55,0.88],[0.56,0.85],[0.58,0.87],[0.59,0.9],[0.6,0.88],[0.51,0.84],[0.53,0.8],[0.5,0.8],[0.49,0.76],[0.53,0.77],[0.56,0.74],[0.55,0.72],[0.59,0.72],[0.85,1.0],[0.87,0.98],[0.89,0.97],[0.91,0.98],[0.92,0.96],[0.93,1.0],[0.94,0.97],[0.95,0.99],[0.96,0.95],[0.98,0.98],[0.99,1.0],[0.85,0.92],[0.86,0.9],[0.87,0.91],[0.88,0.87],[0.89,0.85],[0.86,0.86],[0.85,0.83],[0.87,0.82],[0.83,0.91],[0.9,0.9],[0.92,0.94],[0.94,0.92],[0.96,0.87],[0.98,0.84],[1.1,1.0],[1.14,1.0],[1.08,1.0],[1.05,1.0]];

const farEast = [[1.337,1.522],[1.344,1.457],[1.388,1.345],[1.434,1.628],[1.46,1.519],[1.494,1.507],[1.5,1.54],[1.544,1.587],[1.544,1.471],[1.615,1.436],[1.612,1.366],[1.696,1.404],[1.528,1.292],[1.593,1.223],[1.593,1.126],[1.59,0.937],[1.49,1.196],[1.488,1.125],[1.497,1.134],[1.345,1.244],[1.362,1.212],[1.328,1.159],[1.34,1.152],[1.343,1.137],[1.322,1.129],[1.322,1.091],[1.34,1.099],[1.357,1.109],[1.349,1.087],[1.366,1.073],[1.382,1.043],[1.385,0.993],[1.311,1.023],[1.325,1.023],[1.305,1.011],[1.309,0.976],[1.413,1.109],[1.434,1.115],[1.434,1.068],[1.442,1.072],[1.454,1.068],[1.448,1.053],[1.462,1.058],[1.469,1.056],[1.687,0.837],[1.605,0.653],[1.338,0.815],[1.185,0.627],[1.108,0.551],[1.055,0.497],[1.082,0.394],[1.191,0.771],[1.16,0.733],[1.16,0.701],[1.206,0.864],[1.191,0.834],[1.197,0.842],[1.11,0.746],[1.105,0.715],[1.065,0.688],[1.077,0.701],[1.03,0.671],[1.03,0.751],[1.069,0.759],[1.095,0.812],[1.559,1.809],[1.543,1.589]];

const regions = [southWest, northWest, westBand, centreUpper, centreCore, centreLower, denseCoreBlob, coreUpperBand, southOutliers, northMiddle, eastBandUpper, eastBandLower, northEastTop, northEastMiddle, northEastLower, farEast];

export default function App() {
  const ref = useRef<HTMLCanvasElement>(null);
  useEffect(() => {
    const points = regions.flat().map(([x, y]) => ({ x, y }));
    const setTicks = (values: number[]) => (s: any) => {
      s.ticks = values.map((value) => ({ value }));
    };
    const fitTo = (size: { width?: number; height?: number }) => (s: any) => {
      if (size.width !== undefined) s.width = size.width;
      if (size.height !== undefined) s.height = size.height;
      s.paddingTop = 0;
      s.paddingBottom = 0;
      s.paddingLeft = 0;
      s.paddingRight = 0;
    };
    const axisGrey = "#777";
    const tickFont = { family: "'DejaVu Sans'", size: 11 };
    const titleFont = { family: "'Liberation Sans'", size: 28.5, weight: "bold" };
    const chart = new Chart(ref.current!, {
      type: "scatter",
      data: {
        datasets: [{
          data: points,
          pointStyle: "circle",
          pointRadius: 2,
          pointBorderWidth: 0,
          backgroundColor: "rgb(20,20,235)",
        }],
      },
      options: {
        animation: false,
        responsive: false,
        plugins: { legend: { display: false }, tooltip: { enabled: false } },
        layout: { padding: 0 },
        scales: {
          x: {
            type: "linear", position: "bottom", min: -1.645, max: 1.704,
            afterBuildTicks: setTicks(xTickValues),
            afterFit: fitTo({ height: 83.5 }),
            grid: { drawOnChartArea: false, tickLength: -10, tickColor: axisGrey, tickWidth: 1.5 },
            border: { color: axisGrey, width: 1.5 },
            ticks: { padding: 16, color: "#666", font: tickFont, maxRotation: 0, autoSkip: false, callback: (v: any) => String(v) },
            title: { display: true, text: xTitle, color: "#000", font: titleFont, padding: { top: 0, bottom: 4 } },
          },
          xTop: {
            type: "linear", position: "top", min: -1.645, max: 1.704,
            afterBuildTicks: setTicks(xTickValues),
            afterFit: fitTo({ height: 7 }),
            grid: { drawOnChartArea: false, tickLength: -10, tickColor: axisGrey, tickWidth: 1.5 },
            border: { color: axisGrey, width: 1.5 },
            ticks: { display: false },
          },
          y: {
            type: "linear", position: "left", min: -1.515, max: 1.868,
            afterBuildTicks: setTicks(yTickValues),
            afterFit: fitTo({ width: 111.5 }),
            grid: { drawOnChartArea: false, tickLength: -10, tickColor: axisGrey, tickWidth: 1.5 },
            border: { color: axisGrey, width: 1.5 },
            ticks: { padding: 13, color: "#666", font: tickFont, autoSkip: false, callback: (v: any) => String(v) },
            title: { display: true, text: yTitle, color: "#000", font: titleFont, padding: { top: 18, bottom: 0 } },
          },
          yRight: {
            type: "linear", position: "right", min: -1.515, max: 1.868,
            afterBuildTicks: setTicks(yTickValues),
            afterFit: fitTo({ width: 0 }),
            grid: { drawOnChartArea: false, tickLength: -8, tickColor: axisGrey, tickWidth: 1.5 },
            border: { display: false },
            ticks: { display: false },
          },
        },
      },
    } as any);
    return () => chart.destroy();
  }, []);
  return (
    <div style={{ position: "absolute", left: 0, top: 0, width: 1088, height: 836, overflow: "hidden", background: "#fff" }}>
      <canvas ref={ref} width={1088} height={836} style={{ display: "block", width: 1088, height: 836 }} />
      <div style={{ position: "absolute", left: 960, top: 22, width: 110, height: 22, boxSizing: "border-box", border: "1.5px solid #999", background: "#fff", font: "10.5px 'DejaVu Sans'", color: "#666", textAlign: "right", lineHeight: "19px", paddingRight: 3, whiteSpace: "nowrap" }}>{sigmaLegend}</div>
      <div style={{ position: "absolute", left: 779, top: 17, width: 206, height: 48, background: "#fff" }}>
        <span style={{ position: "absolute", left: 20, top: 8, font: "26.3px 'Liberation Sans'", color: "#000", whiteSpace: "nowrap" }}>{sigmaNote}</span>
      </div>
    </div>
  );
}
